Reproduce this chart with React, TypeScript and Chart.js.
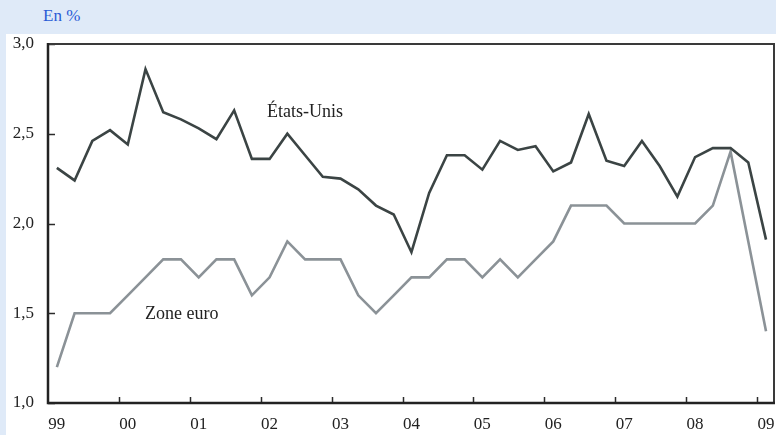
import React, { useEffect, useRef } from "react";
import { Chart, registerables } from "chart.js";

Chart.register(...registerables);

// Quarterly, 1999 Q1 – 2009 Q1
const yearLabels = ["99", "00", "01", "02", "03", "04", "05", "06", "07", "08", "09"];
const etatsUnis = [
  2.31, 2.24, 2.46, 2.52, 2.44, 2.86, 2.62, 2.58, 2.53, 2.47,
  2.63, 2.36, 2.36, 2.5, 2.38, 2.26, 2.25, 2.19, 2.1, 2.05,
  1.84, 2.17, 2.38, 2.38, 2.3, 2.46, 2.41, 2.43, 2.29, 2.34,
  2.61, 2.35, 2.32, 2.46, 2.32, 2.15, 2.37, 2.42, 2.42, 2.34,
  1.91,
];
const zoneEuro = [
  1.2, 1.5, 1.5, 1.5, 1.6, 1.7, 1.8, 1.8, 1.7, 1.8,
  1.8, 1.6, 1.7, 1.9, 1.8, 1.8, 1.8, 1.6, 1.5, 1.6,
  1.7, 1.7, 1.8, 1.8, 1.7, 1.8, 1.7, 1.8, 1.9, 2.1,
  2.1, 2.1, 2.0, 2.0, 2.0, 2.0, 2.0, 2.1, 2.4, 1.9,
  1.4,
];
const yTicks = [1.0, 1.5, 2.0, 2.5, 3.0];
const seriesLabels = { us: "États-Unis", euro: "Zone euro" };

const FONT = "'Liberation Serif', 'DejaVu Serif', serif";

export default function App() {
  const ref = useRef<HTMLCanvasElement | null>(null);

  useEffect(() => {
    document.body.style.margin = "0";
    const canvas = ref.current;
    if (!canvas) return;

    const framePlugin = {
      id: "frame",
      afterDraw(chart: any) {
        const { ctx, chartArea, scales } = chart;
        const x = scales.x;
        const y = scales.y;
        ctx.save();
        ctx.strokeStyle = "#2b2b2b";
        ctx.lineWidth = 1.5;
        for (let k = 0; k < yearLabels.length - 1; k++) {
          const px = Math.round(x.getPixelForValue(k * 4 + 3.5)) + 0.5;
          ctx.beginPath();
          ctx.moveTo(px, chartArea.bottom);
          ctx.lineTo(px, chartArea.bottom - 6);
          ctx.stroke();
        }
        yTicks.forEach((v) => {
          const py = Math.round(y.getPixelForValue(v)) + 0.5;
          ctx.beginPath();
          ctx.moveTo(chartArea.left, py);
          ctx.lineTo(chartArea.left + 7, py);
          ctx.stroke();
        });
        ctx.lineWidth = 2;
        ctx.strokeStyle = "#3a3a3a";
        ctx.beginPath();
        ctx.moveTo(chartArea.left, chartArea.top);
        ctx.lineTo(chartArea.right, chartArea.top);
        ctx.lineTo(chartArea.right, chartArea.bottom);
        ctx.stroke();
        ctx.lineWidth = 2.5;
        ctx.strokeStyle = "#222";
        ctx.beginPath();
        ctx.moveTo(chartArea.left, chartArea.top - 1);
        ctx.lineTo(chartArea.left, chartArea.bottom);
        ctx.lineTo(chartArea.right + 1, chartArea.bottom);
        ctx.stroke();
        ctx.fillStyle = "#222";
        ctx.font = `18px ${FONT}`;
        ctx.textAlign = "center";
        ctx.textBaseline = "middle";
        ctx.fillText(seriesLabels.us, x.getPixelForValue(14.0), y.getPixelForValue(2.62));
        ctx.fillText(seriesLabels.euro, x.getPixelForValue(7.05), y.getPixelForValue(1.495));
        ctx.restore();
      },
    };

    const chart = new Chart(canvas, {
      type: "line",
      data: {
        datasets: [
          {
            label: seriesLabels.us,
            data: etatsUnis.map((v, i) => ({ x: i, y: v })),
            borderColor: "#3b4444",
            borderWidth: 2.6,
            pointRadius: 0,
            tension: 0,
          },
          {
            label: seriesLabels.euro,
            data: zoneEuro.map((v, i) => ({ x: i, y: v })),
            borderColor: "#8b9297",
            borderWidth: 2.6,
            pointRadius: 0,
            tension: 0,
          },
        ],
      },
      options: {
        animation: false,
        responsive: false,
        maintainAspectRatio: false,
        layout: { autoPadding: false, padding: { top: 10, right: 2, left: 0, bottom: 0 } },
        plugins: { legend: { display: false }, tooltip: { enabled: false } },
        scales: {
          x: {
            type: "linear",
            min: -0.5,
            max: 40.45,
            grid: { display: false, drawTicks: false },
            border: { display: false },
            afterBuildTicks: (s: any) => {
              s.ticks = yearLabels.map((_, k) => ({ value: k * 4 }));
            },
            afterFit: (s: any) => {
              s.height = 32;
              s.paddingLeft = 0;
              s.paddingRight = 0;
              s.paddingTop = 0;
              s.paddingBottom = 0;
            },
            ticks: {
              autoSkip: false,
              maxRotation: 0,
              padding: 11,
              color: "#222",
              font: { family: FONT, size: 17 },
              callback: (v: any) => yearLabels[Math.round(Number(v) / 4)] ?? "",
            },
          },
          y: {
            min: 1,
            max: 3,
            grid: { display: false, drawTicks: false },
            border: { display: false },
            afterBuildTicks: (s: any) => {
              s.ticks = yTicks.map((v) => ({ value: v }));
            },
            afterFit: (s: any) => {
              s.width = 42;
              s.paddingLeft = 0;
              s.paddingRight = 0;
              s.paddingTop = 0;
              s.paddingBottom = 0;
            },
            ticks: {
              padding: 14,
              color: "#222",
              font: { family: FONT, size: 17 },
              callback: (v: any) => Number(v).toFixed(1).replace(".", ","),
            },
          },
        },
      },
      plugins: [framePlugin],
    });
    return () => chart.destroy();
  }, []);

  return (
    <div style={{ position: "relative", width: 776, height: 435, background: "#dfeaf8", overflow: "hidden" }}>
      <div
        style={{
          position: "absolute",
          left: 43,
          top: 5,
          fontFamily: FONT,
          fontSize: 17,
          color: "#2a5bd6",
          lineHeight: "22px",
        }}
      >
        En %
      </div>
      <div style={{ position: "absolute", left: 6, top: 34, width: 770, height: 401, background: "#fff" }}>
        <canvas ref={ref} width={770} height={401} style={{ display: "block" }} />
      </div>
    </div>
  );
}
